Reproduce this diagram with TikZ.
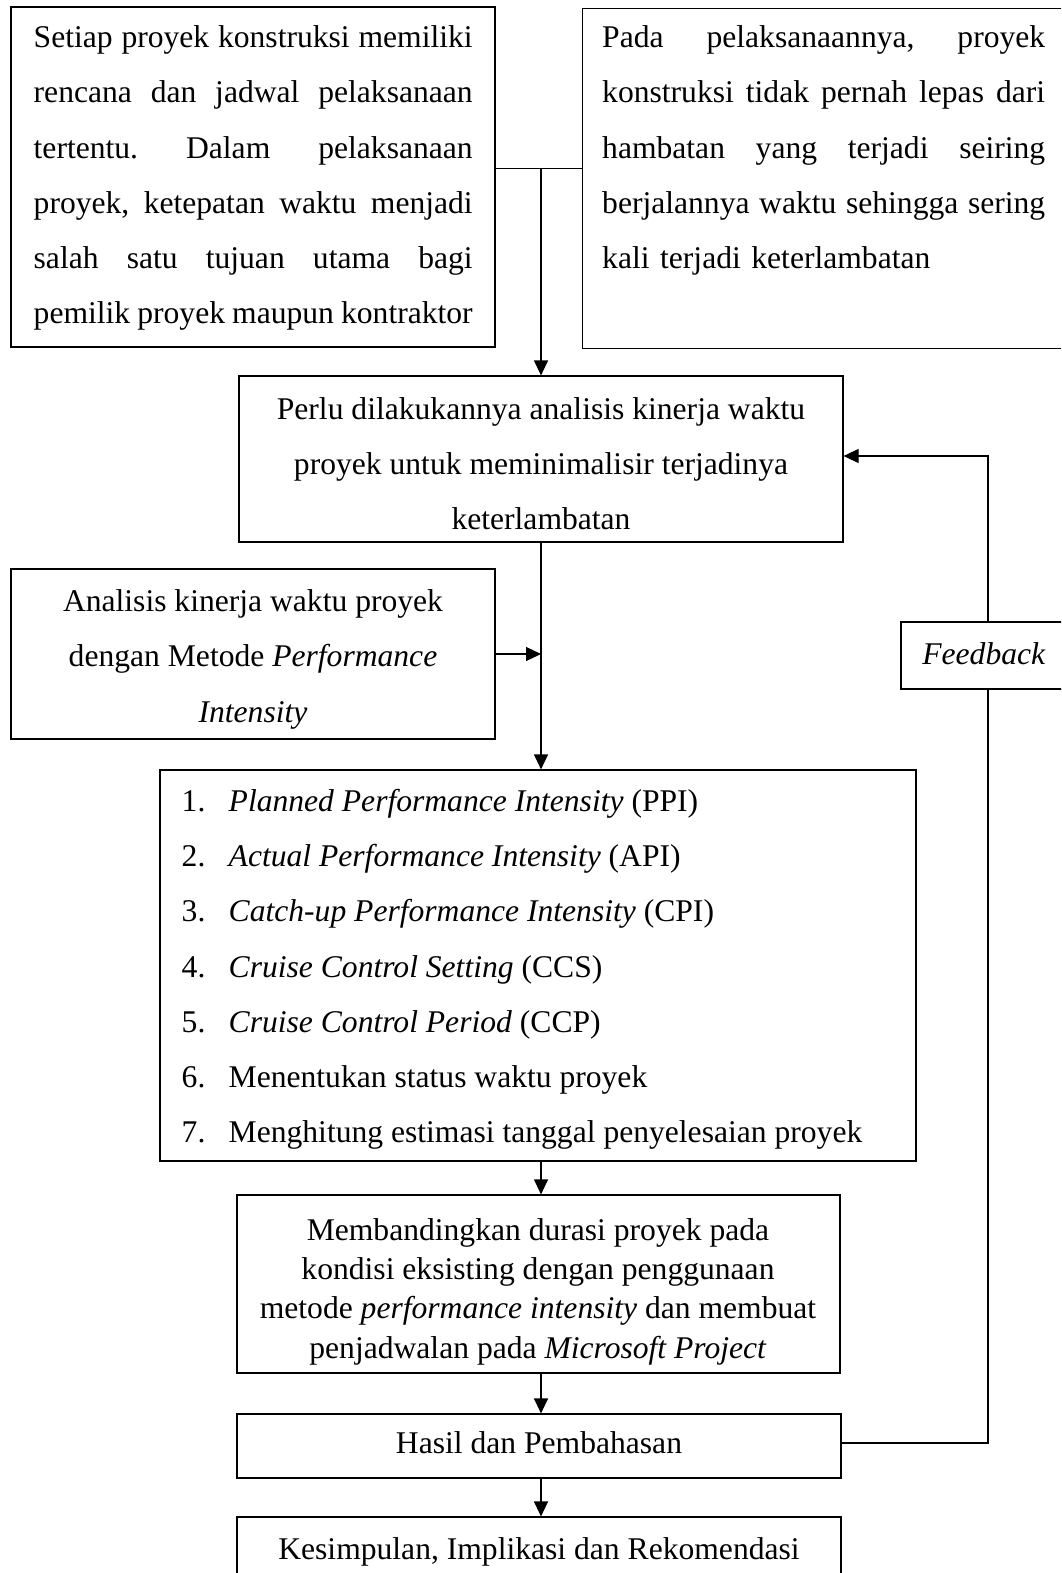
\documentclass[tikz,border=0pt]{standalone}
\usepackage{fontspec}
\setmainfont{Liberation Serif}
\usetikzlibrary{arrows.meta}
\newcommand{\jlineA}[1]{\makebox[439pt][s]{#1}}
\newcommand{\jlineB}[1]{\makebox[443pt][s]{#1}}
\begin{document}
\begin{tikzpicture}[x=1pt,y=-1pt,
  box/.style={draw,line width=1.2pt,inner sep=0pt},
  txt/.style={inner sep=0pt,font=\fontsize{31.6}{55.2}\selectfont},
  tighttxt/.style={inner sep=0pt,font=\fontsize{31.6}{39.4}\selectfont},
  conn/.style={line width=1.2pt},
  arr/.style={conn,-{Triangle[length=15pt,width=14pt]}}]
\clip (0,0) rectangle (1061,1573);
\useasboundingbox (0,0) rectangle (1061,1573);

% top left box
\node[box,minimum width=484pt,minimum height=340pt] (b1) at (253,177) {};
\node[txt,text width=439pt,align=left,anchor=north west] (t1) at (33.5,25.5) {%
\jlineA{Setiap\hfill proyek\hfill konstruksi\hfill memiliki}\\
\jlineA{rencana\hfill dan\hfill jadwal\hfill pelaksanaan}\\
\jlineA{tertentu.\hfill Dalam\hfill pelaksanaan}\\
\jlineA{proyek,\hfill ketepatan\hfill waktu\hfill menjadi}\\
\jlineA{salah\hfill satu\hfill tujuan\hfill utama\hfill bagi}\\
\jlineA{pemilik\hfill proyek\hfill maupun\hfill kontraktor}};

% top right box
\node[box,minimum width=485pt,minimum height=340pt,anchor=north west] (b2) at (582,8) {};
\node[txt,text width=443pt,align=left,anchor=north west] (t2) at (602,25.5) {%
\jlineB{Pada\hfill pelaksanaannya,\hfill proyek}\\
\jlineB{konstruksi\hfill tidak\hfill pernah\hfill lepas\hfill dari}\\
\jlineB{hambatan\hfill yang\hfill terjadi\hfill seiring}\\
\jlineB{berjalannya\hfill waktu\hfill sehingga\hfill sering}\\
kali terjadi keterlambatan};

\coordinate (j) at (541,168.5);

% box 3
\node[box,minimum width=604pt,minimum height=166pt] (b3) at (541,459) {};
\node[txt,align=center,anchor=north] (t3) at (541,397) {Perlu dilakukannya analisis kinerja waktu\\
proyek untuk meminimalisir terjadinya\\
keterlambatan};

% box 4
\node[box,minimum width=484pt,minimum height=170pt] (b4) at (253,654) {};
\node[txt,align=center,anchor=north] (t4) at (253,589.5) {Analisis kinerja waktu proyek\\
dengan Metode \textit{Performance}\\
\textit{Intensity}};

% feedback
\node[box,minimum width=174pt,minimum height=67pt] (fb) at (988,655.5) {};
\node[txt,anchor=base] (fbt) at (984,664.5) {\textit{Feedback}};

% list box
\node[box,minimum width=756pt,minimum height=391pt] (b5) at (538,965.5) {};
\node[txt,align=left,anchor=north west] (t5) at (181.5,789) {%
\makebox[47pt][l]{1.}\textit{Planned Performance Intensity} (PPI)\\
\makebox[47pt][l]{2.}\textit{Actual Performance Intensity} (API)\\
\makebox[47pt][l]{3.}\textit{Catch-up Performance Intensity} (CPI)\\
\makebox[47pt][l]{4.}\textit{Cruise Control Setting} (CCS)\\
\makebox[47pt][l]{5.}\textit{Cruise Control Period} (CCP)\\
\makebox[47pt][l]{6.}Menentukan status waktu proyek\\
\makebox[47pt][l]{7.}Menghitung estimasi tanggal penyelesaian proyek};

% box 7
\node[box,minimum width=603pt,minimum height=178pt] (b7) at (538.5,1284) {};
\node[tighttxt,align=center,anchor=north] (t7) at (538,1218) {Membandingkan durasi proyek pada\\
kondisi eksisting dengan penggunaan\\
metode \textit{performance intensity} dan membuat\\
penjadwalan pada \textit{Microsoft Project}};

% hasil
\node[box,minimum width=604pt,minimum height=64pt] (b8) at (539,1446) {};
\node[txt,anchor=base] (t8) at (539,1453) {Hasil dan Pembahasan};

% kesimpulan
\node[box,minimum width=604pt,minimum height=66pt] (b9) at (539,1550) {};
\node[txt,anchor=base] (t9) at (539,1559) {Kesimpulan, Implikasi dan Rekomendasi};

% helper coordinates
\coordinate (l1) at ([yshift=8.5pt]b1.east);
\coordinate (fbin) at ([yshift=3pt]b3.east);
\coordinate (fbout) at ([yshift=3pt]b8.east);

% connectors
\draw[conn] (l1) -- (l1 -| b2.west);
\draw[arr] (j) -- (j |- b3.north);
\draw[arr] (b3.south) -- (b3.south |- b5.north);
\draw[arr] (b4.east) -- (b4.east -| j);
\draw[arr] (b5.south -| j) -- (b7.north -| j);
\draw[arr] (b7.south -| j) -- (b8.north -| j);
\draw[arr] (b8.south -| j) -- (b9.north -| j);
\draw[conn] (fbout) -- (fbout -| fb.south) -- (fb.south);
\draw[arr] (fb.north) -- (fb.north |- fbin) -- (fbin);
\end{tikzpicture}
\end{document}
